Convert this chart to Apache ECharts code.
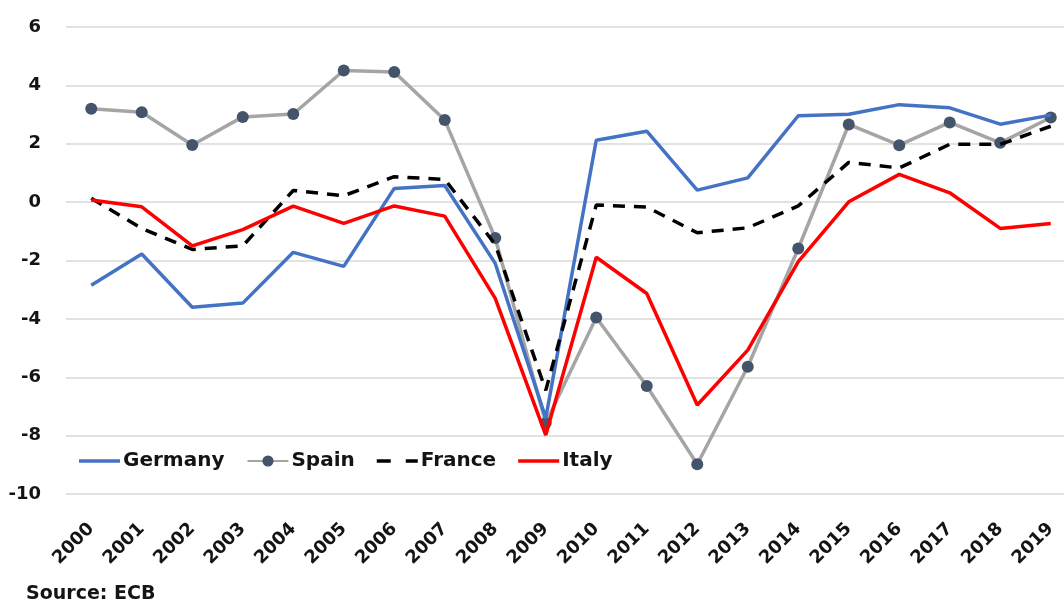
<!DOCTYPE html>
<html><head><meta charset="utf-8">
<script src="https://cdn.jsdelivr.net/npm/echarts@6/dist/echarts.min.js"></script>
<style>html,body{margin:0;padding:0;background:#fff}#c{width:1064px;height:603px}</style>
</head><body><div id="c"></div>
<script>
const years = ['2000','2001','2002','2003','2004','2005','2006','2007','2008','2009','2010','2011','2012','2013','2014','2015','2016','2017','2018','2019'];
const germany = [-2.85,-1.78,-3.6,-3.46,-1.72,-2.2,0.47,0.57,-2.1,-7.4,2.12,2.43,0.41,0.83,2.96,3.01,3.34,3.23,2.67,2.98];
const spain = [3.2,3.08,1.96,2.92,3.02,4.51,4.46,2.81,-1.23,-7.57,-3.95,-6.3,-8.98,-5.64,-1.59,2.66,1.95,2.73,2.03,2.9];
const france = [0.13,-0.9,-1.62,-1.5,0.4,0.22,0.87,0.78,-1.45,-6.45,-0.1,-0.17,-1.05,-0.88,-0.13,1.36,1.17,1.98,1.98,2.6];
const italy = [0.07,-0.16,-1.5,-0.94,-0.14,-0.73,-0.13,-0.48,-3.3,-7.98,-1.89,-3.13,-6.95,-5.07,-2.04,0.01,0.95,0.32,-0.9,-0.73];
const yTicks = {min:-10,max:6,interval:2};
const sourceText = 'Source: ECB';

const FONT = '"DejaVu Sans", sans-serif';
const TXT = '#141414';
const chart = echarts.init(document.getElementById('c'));
chart.setOption({
  animation:false,
  textStyle:{fontFamily:FONT},
  grid:{left:66,right:-12,top:27,bottom:109,containLabel:false,outerBoundsMode:'none'},
  legend:{
    left:74,top:446,itemWidth:41,itemHeight:14,itemGap:22,
    textStyle:{fontFamily:FONT,fontWeight:'bold',fontSize:20,color:TXT,padding:[0,0,0,-2]},
    data:[
      {name:'Germany',icon:'path://M0,0H41V3.5H0Z'},
      {name:'Spain'},
      {name:'France',icon:'path://M0,0H14V3.5H0Z M29,0H41V3.5H29Z'},
      {name:'Italy',icon:'path://M0,0H41V3.5H0Z'}
    ]
  },
  graphic:[{type:'text',left:26,top:585,style:{text:sourceText,font:'bold 19px '+FONT,fill:TXT}}],
  xAxis:{
    type:'category',data:years,boundaryGap:true,
    axisLine:{show:false},axisTick:{show:false},
    axisLabel:{rotate:45,fontFamily:FONT,fontWeight:'bold',fontSize:18,color:TXT,margin:32,interval:0}
  },
  yAxis:{
    type:'value',min:yTicks.min,max:yTicks.max,interval:yTicks.interval,
    axisLine:{show:false},axisTick:{show:false},
    axisLabel:{fontFamily:FONT,fontWeight:'bold',fontSize:18,color:TXT,margin:25},
    splitLine:{lineStyle:{color:'#d9d9d9',width:1.5}}
  },
  series:[
    {name:'Germany',type:'line',data:germany,showSymbol:false,symbol:'none',lineStyle:{color:'#4472C4',width:3.5},itemStyle:{color:'#4472C4'},z:3},
    {name:'Spain',type:'line',data:spain,symbol:'circle',symbolSize:12,lineStyle:{color:'#A5A5A5',width:3.5},itemStyle:{color:'#44546A'},z:2},
    {name:'France',type:'line',data:france,showSymbol:false,symbol:'none',lineStyle:{color:'#000',width:3.5,type:[12,9]},itemStyle:{color:'#000'},z:4},
    {name:'Italy',type:'line',data:italy,showSymbol:false,symbol:'none',lineStyle:{color:'#FF0000',width:3.5},itemStyle:{color:'#FF0000'},z:5}
  ]
});
</script></body></html>
